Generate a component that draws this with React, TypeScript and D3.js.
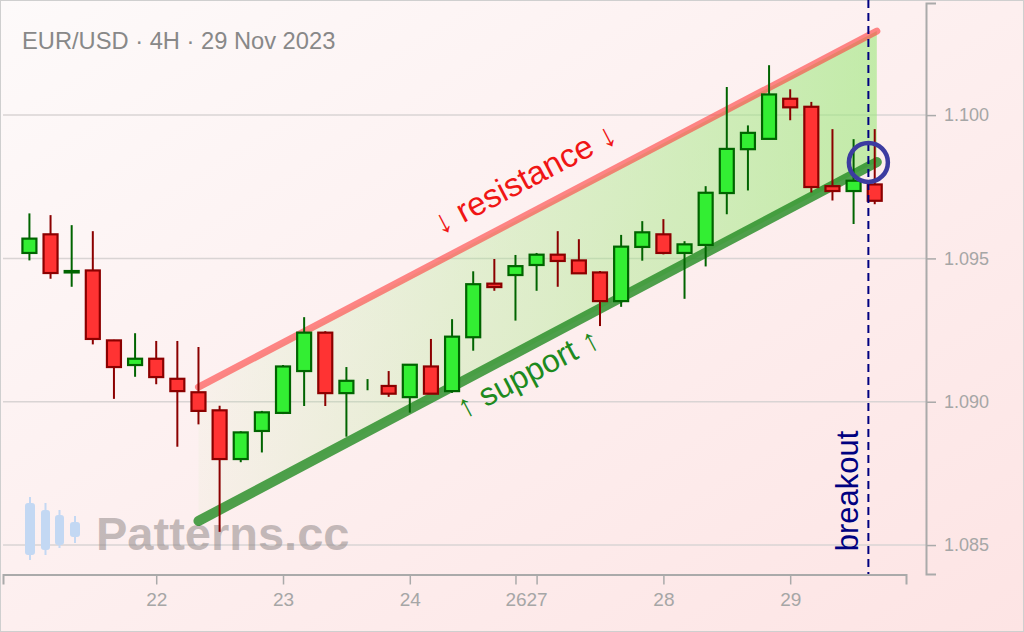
import React, { useEffect, useRef } from 'react';
import * as d3 from 'd3';

const W = 1024;
const H = 632;
const FONT = "'Liberation Sans', Arial, sans-serif";

// 4H candles, 21 Nov 00:00 .. 29 Nov 16:00 (weekend gap removed)
const opens = [1.09519, 1.09584, 1.09451, 1.09458, 1.09214, 1.09128, 1.0915, 1.0908, 1.09033, 1.0897,
  1.088, 1.08898, 1.08961, 1.09107, 1.09241, 1.0903, 1.0906, 1.09055, 1.09016, 1.09123,
  1.09037, 1.09225, 1.09412, 1.09442, 1.09477, 1.09513, 1.09493, 1.09451, 1.09351, 1.0954,
  1.09584, 1.09519, 1.09547, 1.09728, 1.09881, 1.09917, 1.10057, 1.10029, 1.09752, 1.09735, 1.09758];
const highs = [1.09657, 1.09651, 1.09616, 1.09595, 1.09216, 1.09239, 1.09212, 1.09212, 1.09191, 1.08986,
  1.08897, 1.08968, 1.09128, 1.09295, 1.09246, 1.09121, 1.09079, 1.09107, 1.09129, 1.09219,
  1.09288, 1.09455, 1.09498, 1.09512, 1.09519, 1.09595, 1.09567, 1.09456, 1.09582, 1.0963,
  1.09637, 1.0956, 1.09752, 1.10098, 1.09964, 1.10174, 1.1009, 1.10046, 1.09951, 1.09916, 1.09951];
const lows = [1.09493, 1.09429, 1.09401, 1.092, 1.0901, 1.09087, 1.09061, 1.08843, 1.08921, 1.08546,
  1.08789, 1.08823, 1.08957, 1.08985, 1.08985, 1.08878, 1.0904, 1.09017, 1.08962, 1.09028,
  1.09031, 1.09178, 1.09387, 1.09283, 1.09387, 1.09401, 1.09448, 1.09264, 1.09331, 1.09492,
  1.09514, 1.09359, 1.09472, 1.09654, 1.09737, 1.09917, 1.09982, 1.0973, 1.09702, 1.0962, 1.09689];
const closes = [1.09569, 1.09449, 1.09456, 1.09219, 1.09121, 1.0915, 1.09086, 1.09037, 1.08968, 1.088,
  1.08893, 1.08963, 1.09123, 1.09241, 1.0903, 1.09073, 1.0906, 1.09028, 1.09129, 1.09028,
  1.09227, 1.0941, 1.094, 1.09473, 1.09513, 1.09491, 1.09448, 1.09351, 1.09541, 1.09591,
  1.09519, 1.09549, 1.09729, 1.09882, 1.09938, 1.10072, 1.10027, 1.09749, 1.09735, 1.09771, 1.09701];

const dayTickIndex = [6, 12, 18, 23, 24, 30, 36];
const dayTickLabels = ['22', '23', '24', '26', '27', '28', '29'];
const priceTicks = [1.085, 1.09, 1.095, 1.1];

const resistance: [number, number][] = [[8.0, 1.09051], [40.1, 1.10293]];
const support: [number, number][] = [[8.0, 1.08584], [40.1, 1.09836]];
const breakoutIndex = 39.7;
const breakoutPrice = 1.09835;

const title = 'EUR/USD · 4H · 29 Nov 2023';

export default function App() {
  const xAxisRef = useRef<SVGGElement>(null);
  const yAxisRef = useRef<SVGGElement>(null);

  const x = d3.scaleLinear().domain([-1.25, 41.48]).range([3, 906]);
  const y = d3.scaleLinear().domain([1.08399, 1.10391]).range([574, 3]);

  useEffect(() => {
    if (xAxisRef.current) {
      const g = d3.select(xAxisRef.current);
      g.call(
        d3.axisBottom(x)
          .tickValues(dayTickIndex)
          .tickFormat((_d, i) => dayTickLabels[i])
          .tickSize(10)
          .tickSizeOuter(10)
          .tickPadding(8) as any
      );
      g.select('.domain').attr('stroke', '#aaa').attr('stroke-width', 2);
      g.selectAll('.tick line').attr('stroke', '#aaa').attr('stroke-width', 1.5);
      g.selectAll('.tick text').attr('fill', '#a6a6a6').attr('font-size', 19).attr('font-family', FONT);
    }
    if (yAxisRef.current) {
      const g = d3.select(yAxisRef.current);
      g.call(
        d3.axisRight(y)
          .tickValues(priceTicks)
          .tickFormat(d3.format('.3f') as any)
          .tickSize(10)
          .tickSizeOuter(10)
          .tickPadding(8) as any
      );
      g.select('.domain').attr('stroke', '#aaa').attr('stroke-width', 2);
      g.selectAll('.tick line').attr('stroke', '#aaa').attr('stroke-width', 1.5);
      g.selectAll('.tick text').attr('fill', '#a6a6a6').attr('font-size', 18).attr('font-family', FONT);
    }
  }, []);

  const rx1 = x(resistance[0][0]), ry1 = y(resistance[0][1]);
  const rx2 = x(resistance[1][0]), ry2 = y(resistance[1][1]);
  const sx1 = x(support[0][0]), sy1 = y(support[0][1]);
  const sx2 = x(support[1][0]), sy2 = y(support[1][1]);
  const rAngle = (Math.atan2(ry2 - ry1, rx2 - rx1) * 180) / Math.PI;
  const sAngle = (Math.atan2(sy2 - sy1, sx2 - sx1) * 180) / Math.PI;
  const rLabelX = 540;
  const sLabelX = 517;
  const rLabelY = ry1 + ((rLabelX - rx1) / (rx2 - rx1)) * (ry2 - ry1);
  const sLabelY = sy1 + ((sLabelX - sx1) / (sx2 - sx1)) * (sy2 - sy1);

  const channel = `M${rx1},${ry1} L${rx2},${ry2} L${sx2},${sy2} L${sx1},${sy1} Z`;
  const bx = x(breakoutIndex);

  const bodyW = 14;

  return (
    <svg width={W} height={H} style={{ position: 'absolute', left: 0, top: 0, display: 'block' }}>
      <defs>
        <linearGradient id="bg" x1="0" y1="0" x2="1" y2="1">
          <stop offset="0%" stopColor="#fdfafa" />
          <stop offset="100%" stopColor="#fde4e4" />
        </linearGradient>
        <linearGradient id="chFill" gradientUnits="userSpaceOnUse" x1={rx1} y1={0} x2={rx2} y2={0}>
          <stop offset="0%" stopColor="#9be87a" stopOpacity={0.05} />
          <stop offset="100%" stopColor="#9be87a" stopOpacity={0.6} />
        </linearGradient>
      </defs>
      <rect x={0.5} y={0.5} width={W - 1} height={H - 1} fill="url(#bg)" stroke="#cfcfcf" strokeWidth={1} />

      {/* grid */}
      {priceTicks.map((p) => (
        <line key={p} x1={3} x2={926} y1={y(p)} y2={y(p)} stroke="#d9d4d4" strokeWidth={1.5} />
      ))}

      <text x={22} y={49} fontFamily={FONT} fontSize={23.7} fill="#888">{title}</text>

      {/* watermark */}
      <g fill="#c3d8f3">
        <rect x={25} y={503} width={10} height={52} rx={3} />
        <rect x={29} y={497} width={2} height={63} />
        <rect x={41} y={510} width={9} height={40} rx={3} />
        <rect x={44.5} y={503} width={2} height={52} />
        <rect x={55} y={515} width={9} height={30} rx={3} />
        <rect x={58.5} y={510} width={2} height={38} />
        <rect x={70} y={522} width={10} height={15} rx={3} />
        <rect x={74} y={516} width={2} height={27} />
      </g>
      <text x={96} y={550} fontFamily={FONT} fontWeight="bold" fontSize={47} fill="#8a8282" fillOpacity={0.5}>Patterns.cc</text>

      {/* channel */}
      <path d={channel} fill="url(#chFill)" />
      <line x1={sx1} y1={sy1} x2={sx2} y2={sy2} stroke="#228b22" strokeOpacity={0.8} strokeWidth={10} strokeLinecap="round" />
      <line x1={rx1} y1={ry1} x2={rx2} y2={ry2} stroke="#ff3c3c" strokeOpacity={0.6} strokeWidth={7} strokeLinecap="round" />

      {/* candles */}
      {opens.map((o, i) => {
        const c = closes[i];
        const up = c >= o;
        const stroke = up ? '#006400' : '#8b0000';
        const fill = up ? '#33ee33' : '#ff3333';
        const cx = x(i);
        const top = y(Math.max(o, c));
        const h = Math.abs(y(o) - y(c));
        return (
          <g key={i}>
            <line x1={cx} x2={cx} y1={y(highs[i])} y2={y(lows[i])} stroke={stroke} strokeWidth={2} />
            {h > 0 && (
              <rect x={cx - bodyW / 2} y={top} width={bodyW} height={h} fill={fill} stroke={stroke} strokeWidth={2.2} />
            )}
          </g>
        );
      })}

      {/* breakout */}
      <line x1={bx} x2={bx} y1={0} y2={574} stroke="#000080" strokeWidth={2} strokeDasharray="8,5" />
      <circle cx={bx} cy={y(breakoutPrice)} r={19.5} fill="none" stroke="#3c3ca0" strokeWidth={4.5} />
      <text transform={`translate(${bx - 10},491) rotate(-90)`} textAnchor="middle" fontFamily={FONT} fontSize={31} fill="#000080">breakout</text>

      <text transform={`translate(${rLabelX},${rLabelY}) rotate(${rAngle})`} y={-22} textAnchor="middle" fontFamily={FONT} fontSize={33} fill="#f01515">↓ resistance ↓</text>
      <text transform={`translate(${sLabelX},${sLabelY}) rotate(${sAngle})`} y={34} textAnchor="middle" fontFamily={FONT} fontSize={32} fill="#1e8a1e">↑ support ↑</text>

      <g ref={xAxisRef} transform="translate(0,574.5)" />
      <g ref={yAxisRef} transform="translate(926,0)" />
    </svg>
  );
}
